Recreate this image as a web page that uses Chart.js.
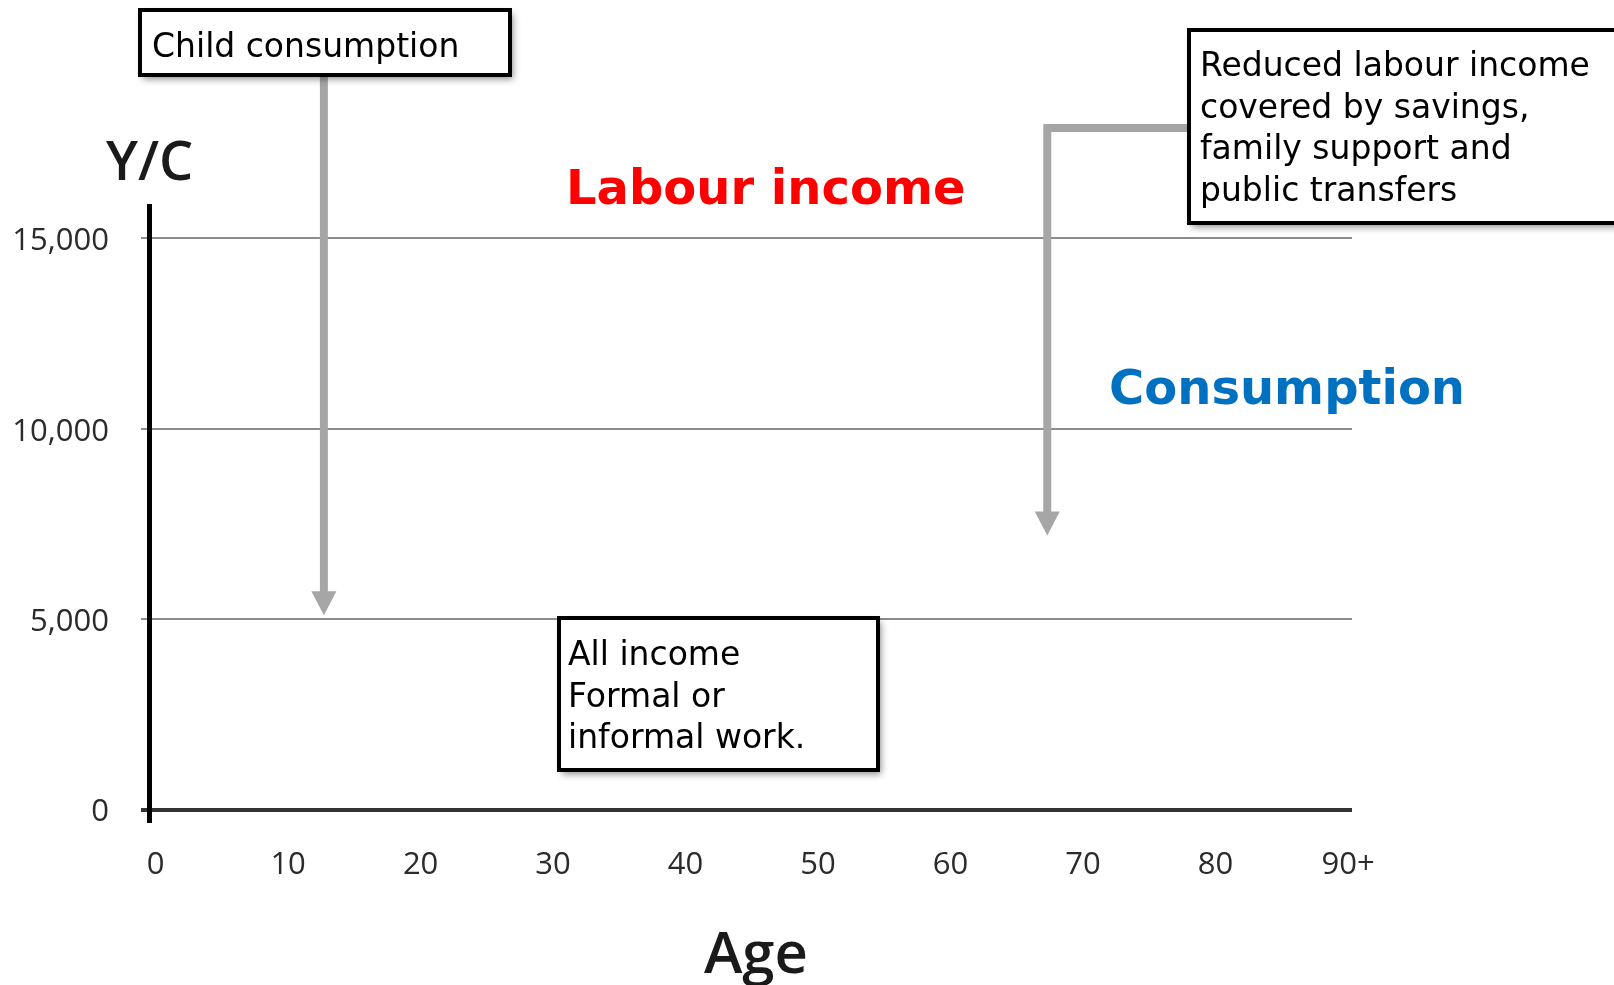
<!DOCTYPE html>
<html>
<head>
<meta charset="utf-8">
<script src="https://cdn.jsdelivr.net/npm/chart.js@4.4.1/dist/chart.umd.min.js"></script>
<style>
  html, body { margin: 0; padding: 0; background: #fff; }
</style>
</head>
<body>
<canvas id="graph1" width="1614" height="985"></canvas>
<script>
// 軸の目盛り
var ageTicks = [0, 10, 20, 30, 40, 50, 60, 70, 80, 90];
var ageLabels = ['0', '10', '20', '30', '40', '50', '60', '70', '80', '90+'];
var ycTicks = [0, 5000, 10000, 15000];
var ycLabels = ['0', '5,000', '10,000', '15,000'];

// 矢印の先端 (年齢, Y/C)
var childTip = [12.7, 5100];
var oldAgeTip = [67.3, 7200];

var tickFont = { family: '"Open Sans"', size: 31 };
var boxFont = '33px "DejaVu Sans"';

function drawBox(ctx, x, y, w, h, lines) {
  ctx.save();
  ctx.shadowColor = 'rgba(0,0,0,0.45)';
  ctx.shadowBlur = 7;
  ctx.shadowOffsetX = 3;
  ctx.shadowOffsetY = 4;
  ctx.fillStyle = '#fff';
  ctx.fillRect(x, y, w, h);
  ctx.restore();
  ctx.save();
  ctx.strokeStyle = '#000';
  ctx.lineWidth = 4;
  ctx.strokeRect(x, y, w, h);
  ctx.fillStyle = '#000';
  ctx.font = boxFont;
  ctx.textAlign = 'left';
  ctx.textBaseline = 'alphabetic';
  for (let i = 0; i < lines.length; i++) {
    ctx.fillText(lines[i][0], lines[i][1], lines[i][2]);
  }
  ctx.restore();
}

function drawHead(ctx, x, y) {
  ctx.beginPath();
  ctx.moveTo(x, y);
  ctx.lineTo(x - 12.5, y - 24);
  ctx.lineTo(x + 12.5, y - 24);
  ctx.closePath();
  ctx.fill();
}

var notes = {
  id: 'notes',
  afterDraw: function(chart) {
    var ctx = chart.ctx;
    var xs = chart.scales.x;
    var ys = chart.scales.y;

    // 軸タイトル
    ctx.save();
    ctx.fillStyle = '#1a1a1a';
    ctx.font = '600 54px "Open Sans"';
    ctx.textAlign = 'left';
    ctx.fillText('Y/C', 106, 180);
    ctx.font = '600 58px "Open Sans"';
    ctx.fillText('Age', 704, 973);

    // 系列名
    ctx.font = 'bold 48px "DejaVu Sans"';
    ctx.fillStyle = '#ff0000';
    ctx.fillText('Labour income', 566, 204);
    ctx.fillStyle = '#0070c0';
    ctx.fillText('Consumption', 1109, 404);
    ctx.restore();

    // 矢印
    ctx.save();
    ctx.strokeStyle = '#a6a6a6';
    ctx.fillStyle = '#a6a6a6';
    ctx.lineWidth = 8;
    var cx = xs.getPixelForValue(childTip[0]);
    var cy = ys.getPixelForValue(childTip[1]);
    ctx.beginPath();
    ctx.moveTo(cx, 76);
    ctx.lineTo(cx, cy - 20);
    ctx.stroke();
    drawHead(ctx, cx, cy);

    var ox = xs.getPixelForValue(oldAgeTip[0]);
    var oy = ys.getPixelForValue(oldAgeTip[1]);
    ctx.beginPath();
    ctx.moveTo(1189, 128);
    ctx.lineTo(ox, 128);
    ctx.lineTo(ox, oy - 20);
    ctx.stroke();
    drawHead(ctx, ox, oy);
    ctx.restore();

    // 注釈ボックス
    drawBox(ctx, 140, 10, 370, 65, [['Child consumption', 152, 57]]);
    drawBox(ctx, 1189, 30, 440, 193, [
      ['Reduced labour income', 1200, 76],
      ['covered by savings,', 1200, 118],
      ['family support and', 1200, 159],
      ['public transfers', 1200, 201]
    ]);
    drawBox(ctx, 559, 618, 319, 152, [
      ['All income', 568, 665],
      ['Formal or', 568, 707],
      ['informal work.', 568, 748]
    ]);
  }
};

document.addEventListener('DOMContentLoaded', function() {
  var ctx = document.querySelector('#graph1').getContext('2d');
  var chart = new Chart(ctx, {
    type: 'scatter',
    data: { datasets: [] },
    plugins: [notes],
    options: {
      responsive: false,
      animation: false,
      layout: { padding: { left: 0, right: 262, top: 206, bottom: 0 } },
      plugins: { legend: { display: false }, tooltip: { enabled: false } },
      scales: {
        x: {
          type: 'linear',
          min: -0.5,
          max: 90.3,
          afterBuildTicks: function(s) { s.ticks = ageTicks.map(function(v) { return { value: v }; }); },
          afterFit: function(s) { s.height = 164; },
          grid: { display: false, drawTicks: false },
          border: { display: false },
          ticks: {
            padding: 26,
            color: '#2b2b2b',
            font: tickFont,
            maxRotation: 0,
            autoSkip: false,
            callback: function(v) { return ageLabels[ageTicks.indexOf(v)]; }
          }
        },
        y: {
          type: 'linear',
          min: -300,
          max: 15850,
          afterBuildTicks: function(s) { s.ticks = ycTicks.map(function(v) { return { value: v }; }); },
          afterFit: function(s) { s.width = 149; },
          grid: {
            color: function(c) { return c.tick && c.tick.value === 0 ? '#333' : '#8c8c8c'; },
            lineWidth: function(c) { return c.tick && c.tick.value === 0 ? 4 : 2; },
            tickLength: 8
          },
          border: { color: '#000', width: 5 },
          ticks: {
            padding: 32,
            labelOffset: 3,
            color: '#2b2b2b',
            font: tickFont,
            callback: function(v) { return ycLabels[ycTicks.indexOf(v)]; }
          }
        }
      }
    }
  });
});
</script>
</body>
</html>
